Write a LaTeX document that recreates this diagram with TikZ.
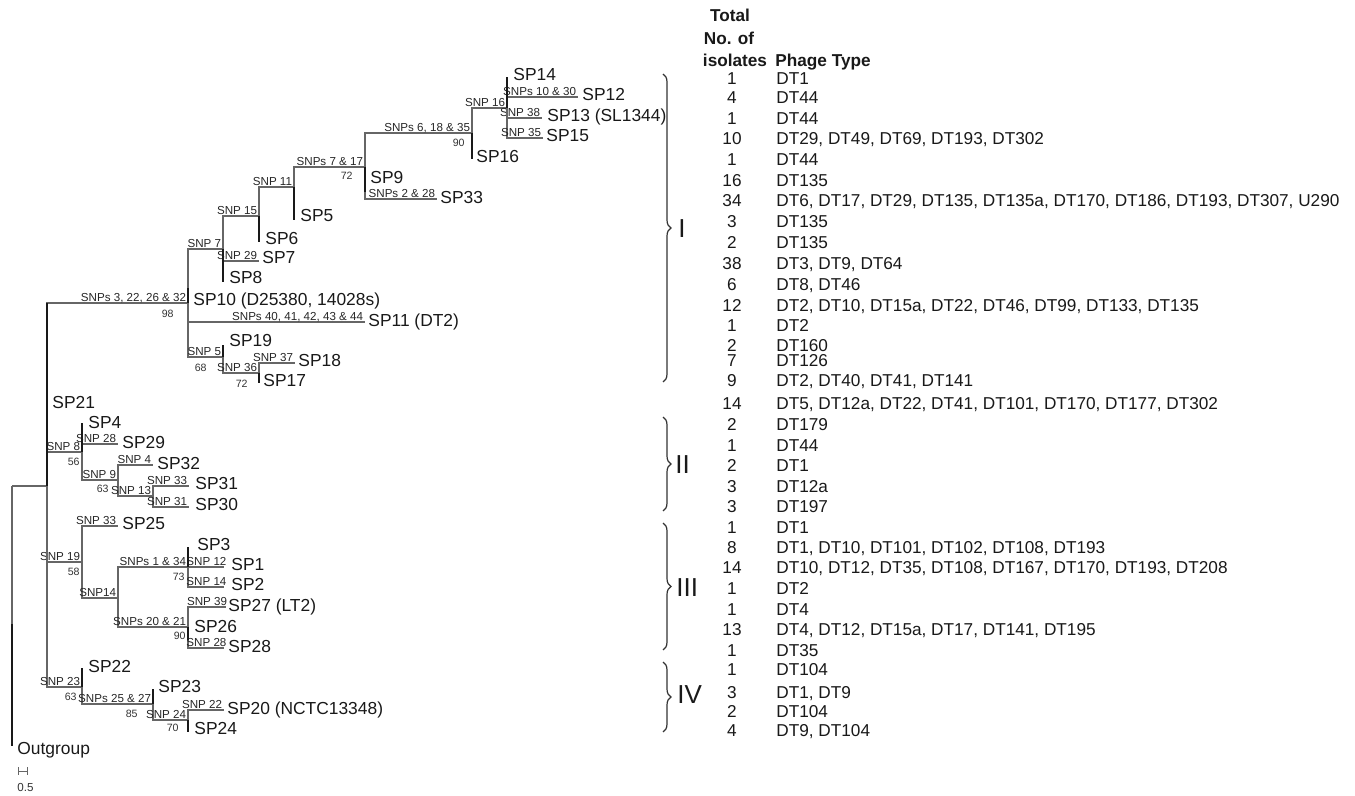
\documentclass[tikz,border=0pt]{standalone}
\usepackage{fontspec}
\setmainfont{Liberation Sans}
\usetikzlibrary{calc}
\usetikzlibrary{decorations.pathreplacing}

\begin{document}
\begin{tikzpicture}[x=0.5pt,y=-0.5pt,inner sep=0pt,
  branch/.style={draw=black!60,line width=0.75pt},
  tick/.style={draw=black!90,line width=1.2pt},
  snp/.style={font=\fontsize{5.8}{6}\selectfont,text=black!85,anchor=south east,inner sep=0.6pt,text height=4.2pt,text depth=0pt},
  boot/.style={font=\fontsize{5.3}{6}\selectfont,text=black!80,anchor=east,text height=3.8pt,text depth=0pt},
  taxon/.style={font=\fontsize{8.7}{10}\selectfont,text=black!90,anchor=west,text height=6.2pt,text depth=0pt},
  num/.style={font=\fontsize{8.6}{10}\selectfont,text=black!90,text height=6.2pt,text depth=0pt},
  phage/.style={num,anchor=west},
  head/.style={font=\bfseries\fontsize{8.6}{10}\selectfont,text=black!90,text height=6.2pt,text depth=0pt},
  clade/.style={draw=black!80,line width=0.6pt,decorate,decoration={brace,amplitude=4pt}},
  numeral/.style={font=\fontsize{13}{14}\selectfont,text=black!90,anchor=west,text height=9.3pt,text depth=0pt}]
\useasboundingbox (0,0) rectangle (1355,796);

% internal nodes
\coordinate (r0) at (12,486);
\coordinate (n1) at (47,486);
\coordinate (n2) at (188,303);
\coordinate (n3) at (223,249);
\coordinate (n4) at (223,357);
\coordinate (n5) at (259,216);
\coordinate (n6) at (294,187);
\coordinate (n7) at (365,167);
\coordinate (n8) at (472,133);
\coordinate (n9) at (507,108);
\coordinate (n10) at (259,373);
\coordinate (n11) at (82,452);
\coordinate (n12) at (82,562);
\coordinate (n13) at (82,687);
\coordinate (n14) at (118,480);
\coordinate (n15) at (153,496);
\coordinate (n16) at (118,598);
\coordinate (n17) at (188,567);
\coordinate (n18) at (188,627);
\coordinate (n19) at (153,704);
\coordinate (n20) at (188,720);

% branch tips
\coordinate (og) at (12,746);
\coordinate (sp12) at (578,97);
\coordinate (sp13) at (542,118);
\coordinate (sp15) at (543,138);
\coordinate (sp33) at (437,199);
\coordinate (sp7) at (259,261);
\coordinate (sp11) at (365,322);
\coordinate (sp18) at (295,363);
\coordinate (sp29) at (118,444);
\coordinate (sp32) at (153,465);
\coordinate (sp31) at (189,486);
\coordinate (sp30) at (189,507);
\coordinate (sp25) at (118,526);
\coordinate (sp1) at (224,567);
\coordinate (sp2) at (224,587);
\coordinate (sp27) at (226,607);
\coordinate (sp28) at (224,648);
\coordinate (sp20) at (224,710);

% zero length tips
\coordinate (sp14) at (507,77);
\coordinate (sp16) at (472,159);
\coordinate (sp9) at (365,192);
\coordinate (sp5) at (294,220);
\coordinate (sp6) at (259,242);
\coordinate (sp8) at (223,282);
\coordinate (sp10) at (188,288);
\coordinate (sp19) at (223,345);
\coordinate (sp17) at (259,383);
\coordinate (sp21) at (47,303);
\coordinate (sp4) at (82,423);
\coordinate (sp3) at (188,547);
\coordinate (sp26) at (188,640);
\coordinate (sp22) at (82,668);
\coordinate (sp23) at (153,689);
\coordinate (sp24) at (188,732);

% branches
\draw[branch] (r0) -- (n1);
\draw[branch] (r0) -- (og);
\draw[branch] (n1) |- (n2) node[snp] {SNPs 3, 22, 26 \& 32};
\draw[branch] (n2) |- (n3) node[snp] {SNP 7};
\draw[branch] (n2) |- (sp11) node[snp] {SNPs 40, 41, 42, 43 \& 44};
\draw[branch] (n2) |- (n4) node[snp] {SNP 5};
\draw[branch] (n3) |- (n5) node[snp] {SNP 15};
\draw[branch] (n3) |- (sp7) node[snp] {SNP 29};
\draw[branch] (n5) |- (n6) node[snp] {SNP 11};
\draw[branch] (n6) |- (n7) node[snp] {SNPs 7 \& 17};
\draw[branch] (n7) |- (n8) node[snp] {SNPs 6, 18 \& 35};
\draw[branch] (n7) |- (sp33) node[snp] {SNPs 2 \& 28};
\draw[branch] (n8) |- (n9) node[snp] {SNP 16};
\draw[branch] (n9) |- (sp12) node[snp] {SNPs 10 \& 30};
\draw[branch] (n9) |- (sp13) node[snp] {SNP 38};
\draw[branch] (n9) |- (sp15) node[snp] {SNP 35};
\draw[branch] (n4) |- (n10) node[snp] {SNP 36};
\draw[branch] (n10) |- (sp18) node[snp] {SNP 37};
\draw[branch] (n1) |- (n11) node[snp] {SNP 8};
\draw[branch] (n11) |- (sp29) node[snp] {SNP 28};
\draw[branch] (n11) |- (n14) node[snp] {SNP 9};
\draw[branch] (n14) |- (sp32) node[snp] {SNP 4};
\draw[branch] (n14) |- (n15) node[snp] {SNP 13};
\draw[branch] (n15) |- (sp31) node[snp] {SNP 33};
\draw[branch] (n15) |- (sp30) node[snp] {SNP 31};
\draw[branch] (n1) |- (n12) node[snp] {SNP 19};
\draw[branch] (n12) |- (sp25) node[snp] {SNP 33};
\draw[branch] (n12) |- (n16) node[snp] {SNP14};
\draw[branch] (n16) |- (n17) node[snp] {SNPs 1 \& 34};
\draw[branch] (n16) |- (n18) node[snp] {SNPs 20 \& 21};
\draw[branch] (n17) |- (sp1) node[snp,xshift=2.2pt] {SNP 12};
\draw[branch] (n17) |- (sp2) node[snp,xshift=2.2pt] {SNP 14};
\draw[branch] (n18) |- (sp27) node[snp,xshift=1.5pt] {SNP 39};
\draw[branch] (n18) |- (sp28) node[snp,xshift=2.2pt] {SNP 28};
\draw[branch] (n1) |- (n13) node[snp] {SNP 23};
\draw[branch] (n13) |- (n19) node[snp] {SNPs 25 \& 27};
\draw[branch] (n19) |- (n20) node[snp] {SNP 24};
\draw[branch] (n20) |- (sp20) node[snp] {SNP 22};

% zero length branches
\draw[tick] (n9) -- (sp14);
\draw[tick] (n8) -- (sp16);
\draw[tick] (n7) -- (sp9);
\draw[tick] (n6) -- (sp5);
\draw[tick] (n5) -- (sp6);
\draw[tick] (n3) -- (sp8);
\draw[tick] (n2) -- (sp10);
\draw[tick] (n4) -- (sp19);
\draw[tick] (n10) -- (sp17);
\draw[tick] (n1) -- (sp21);
\draw[tick] (n11) -- (sp4);
\draw[tick] (n17) -- (sp3);
\draw[tick] (n18) -- (sp26);
\draw[tick] (n13) -- (sp22);
\draw[tick] (n19) -- (sp23);
\draw[tick] (n20) -- (sp24);
\draw[tick] ($(og)+(0,-122)$) -- (og);

% taxa
\node[taxon] (t14) at (513,74) {SP14};
\node[taxon] (t12) at (582,94) {SP12};
\node[taxon] (t13) at (547,115) {SP13 (SL1344)};
\node[taxon] (t15) at (546,135) {SP15};
\node[taxon] (t16) at (476,156) {SP16};
\node[taxon] (t9) at (370,177) {SP9};
\node[taxon] (t33) at (440,197) {SP33};
\node[taxon] (t5) at (300,215) {SP5};
\node[taxon] (t6) at (265,238) {SP6};
\node[taxon] (t7) at (262,257) {SP7};
\node[taxon] (t8) at (229,277) {SP8};
\node[taxon] (t10) at (193,299) {SP10 (D25380, 14028s)};
\node[taxon] (t11) at (368,320) {SP11 (DT2)};
\node[taxon] (t19) at (229,340) {SP19};
\node[taxon] (t18) at (298,360) {SP18};
\node[taxon] (t17) at (263,380) {SP17};
\node[taxon] (t21) at (52,402) {SP21};
\node[taxon] (t4) at (88,422) {SP4};
\node[taxon] (t29) at (122,442) {SP29};
\node[taxon] (t32) at (157,463) {SP32};
\node[taxon] (t31) at (195,483) {SP31};
\node[taxon] (t30) at (195,504) {SP30};
\node[taxon] (t25) at (122,523) {SP25};
\node[taxon] (t3) at (197,544) {SP3};
\node[taxon] (t1) at (231,564) {SP1};
\node[taxon] (t2) at (231,584) {SP2};
\node[taxon] (t27) at (228,605) {SP27 (LT2)};
\node[taxon] (t26) at (194,626) {SP26};
\node[taxon] (t28) at (228,646) {SP28};
\node[taxon] (t22) at (88,666) {SP22};
\node[taxon] (t23) at (158,686) {SP23};
\node[taxon] (t20) at (227,708) {SP20 (NCTC13348)};
\node[taxon] (t24) at (194,728) {SP24};
\node[taxon] (tog) at (17,748) {Outgroup};

% bootstrap values
\node[boot] (b2) at (174,314) {98};
\node[boot] (b7) at (353,176) {72};
\node[boot] (b8) at (465,143) {90};
\node[boot] (b4) at (207,368) {68};
\node[boot] (b10) at (248,384) {72};
\node[boot] (b11) at (80,462) {56};
\node[boot] (b14) at (109,489) {63};
\node[boot] (b12) at (80,572) {58};
\node[boot] (b17) at (185,577) {73};
\node[boot] (b18) at (186,636) {90};
\node[boot] (b13) at (77,697) {63};
\node[boot] (b19) at (138,714) {85};
\node[boot] (b20) at (179,728) {70};

% scale bar
\coordinate (sb1) at (18,771);
\coordinate (sb2) at (27,771);
\draw[branch,line width=0.5pt] (sb1) -- (sb2);
\draw[branch,line width=0.5pt] ($(sb1)+(0,-4)$) -- ($(sb1)+(0,4)$);
\draw[branch,line width=0.5pt] ($(sb2)+(0,-4)$) -- ($(sb2)+(0,4)$);
\node[boot,anchor=west,font=\fontsize{5.8}{6}\selectfont] (sbl) at (17,788) {0.5};

% clades
\coordinate (cI1) at (663,74);
\coordinate (cI2) at (663,382);
\coordinate (cII1) at (663,417);
\coordinate (cII2) at (663,511);
\coordinate (cIII1) at (663,523);
\coordinate (cIII2) at (663,650);
\coordinate (cIV1) at (663,662);
\coordinate (cIV2) at (663,732);
\draw[clade] (cI1) -- (cI2);
\draw[clade] (cII1) -- (cII2);
\draw[clade] (cIII1) -- (cIII2);
\draw[clade] (cIV1) -- (cIV2);
\node[numeral] (nI) at (678,228) {I};
\node[numeral] (nII) at (675,464) {II};
\node[numeral] (nIII) at (676,587) {III};
\node[numeral] (nIV) at (677,694) {IV};

% table
\node[head] (h1) at (730,15) {Total};
\node[head] (h2) at (729,38) {No. of};
\node[head] (h3) at (735,60) {isolates};
\node[head,anchor=west] (h4) at (775,60) {Phage Type};

\node[num] (k1) at (732,78) {1} node[phage] (p1) at ($(k1)+(44,0)$) {DT1};
\node[num] (k2) at (732,97) {4} node[phage] (p2) at ($(k2)+(44,0)$) {DT44};
\node[num] (k3) at (732,118) {1} node[phage] (p3) at ($(k3)+(44,0)$) {DT44};
\node[num] (k4) at (732,138) {10} node[phage] (p4) at ($(k4)+(44,0)$) {DT29, DT49, DT69, DT193, DT302};
\node[num] (k5) at (732,159) {1} node[phage] (p5) at ($(k5)+(44,0)$) {DT44};
\node[num] (k6) at (732,180) {16} node[phage] (p6) at ($(k6)+(44,0)$) {DT135};
\node[num] (k7) at (732,200) {34} node[phage] (p7) at ($(k7)+(44,0)$) {DT6, DT17, DT29, DT135, DT135a, DT170, DT186, DT193, DT307, U290};
\node[num] (k8) at (732,221) {3} node[phage] (p8) at ($(k8)+(44,0)$) {DT135};
\node[num] (k9) at (732,242) {2} node[phage] (p9) at ($(k9)+(44,0)$) {DT135};
\node[num] (k10) at (732,263) {38} node[phage] (p10) at ($(k10)+(44,0)$) {DT3, DT9, DT64};
\node[num] (k11) at (732,284) {6} node[phage] (p11) at ($(k11)+(44,0)$) {DT8, DT46};
\node[num] (k12) at (732,305) {12} node[phage] (p12) at ($(k12)+(44,0)$) {DT2, DT10, DT15a, DT22, DT46, DT99, DT133, DT135};
\node[num] (k13) at (732,325) {1} node[phage] (p13) at ($(k13)+(44,0)$) {DT2};
\node[num] (k14) at (732,345) {2} node[phage] (p14) at ($(k14)+(44,0)$) {DT160};
\node[num] (k15) at (732,360) {7} node[phage] (p15) at ($(k15)+(44,0)$) {DT126};
\node[num] (k16) at (732,380) {9} node[phage] (p16) at ($(k16)+(44,0)$) {DT2, DT40, DT41, DT141};
\node[num] (k17) at (732,403) {14} node[phage] (p17) at ($(k17)+(44,0)$) {DT5, DT12a, DT22, DT41, DT101, DT170, DT177, DT302};
\node[num] (k18) at (732,424) {2} node[phage] (p18) at ($(k18)+(44,0)$) {DT179};
\node[num] (k19) at (732,445) {1} node[phage] (p19) at ($(k19)+(44,0)$) {DT44};
\node[num] (k20) at (732,465) {2} node[phage] (p20) at ($(k20)+(44,0)$) {DT1};
\node[num] (k21) at (732,486) {3} node[phage] (p21) at ($(k21)+(44,0)$) {DT12a};
\node[num] (k22) at (732,506) {3} node[phage] (p22) at ($(k22)+(44,0)$) {DT197};
\node[num] (k23) at (732,527) {1} node[phage] (p23) at ($(k23)+(44,0)$) {DT1};
\node[num] (k24) at (732,547) {8} node[phage] (p24) at ($(k24)+(44,0)$) {DT1, DT10, DT101, DT102, DT108, DT193};
\node[num] (k25) at (732,567) {14} node[phage] (p25) at ($(k25)+(44,0)$) {DT10, DT12, DT35, DT108, DT167, DT170, DT193, DT208};
\node[num] (k26) at (732,588) {1} node[phage] (p26) at ($(k26)+(44,0)$) {DT2};
\node[num] (k27) at (732,609) {1} node[phage] (p27) at ($(k27)+(44,0)$) {DT4};
\node[num] (k28) at (732,629) {13} node[phage] (p28) at ($(k28)+(44,0)$) {DT4, DT12, DT15a, DT17, DT141, DT195};
\node[num] (k29) at (732,650) {1} node[phage] (p29) at ($(k29)+(44,0)$) {DT35};
\node[num] (k30) at (732,669) {1} node[phage] (p30) at ($(k30)+(44,0)$) {DT104};
\node[num] (k31) at (732,692) {3} node[phage] (p31) at ($(k31)+(44,0)$) {DT1, DT9};
\node[num] (k32) at (732,711) {2} node[phage] (p32) at ($(k32)+(44,0)$) {DT104};
\node[num] (k33) at (732,730) {4} node[phage] (p33) at ($(k33)+(44,0)$) {DT9, DT104};
\end{tikzpicture}
\end{document}
